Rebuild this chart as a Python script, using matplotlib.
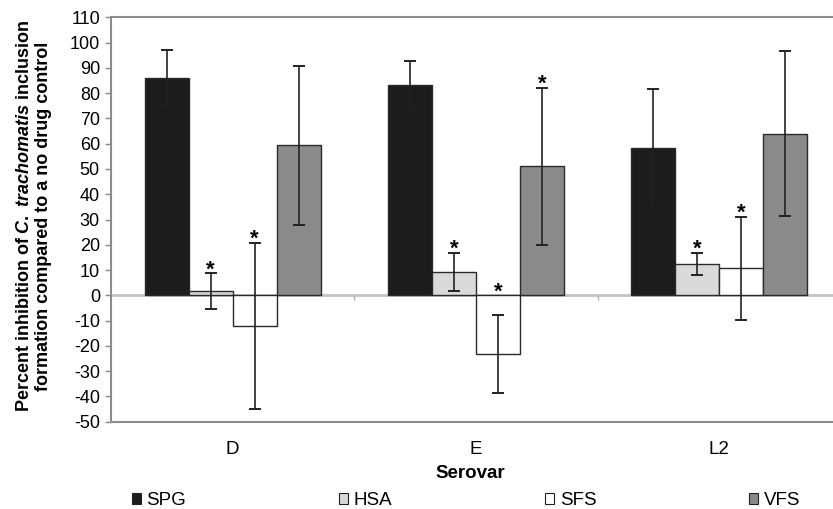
import matplotlib

matplotlib.use("Agg")

import matplotlib.pyplot as plt
import numpy as np
from matplotlib.patches import Patch

plt.rcParams["font.family"] = ["Liberation Sans", "DejaVu Sans"]
plt.rcParams["mathtext.fontset"] = "custom"
plt.rcParams["mathtext.rm"] = "Liberation Sans:bold"
plt.rcParams["mathtext.it"] = "Liberation Sans:bold:italic"

# values (percent inhibition, mean +/- error)
serovars = ["D", "E", "L2"]
series = ["SPG", "HSA", "SFS", "VFS"]
means = {
    "SPG": [86.0, 83.1, 58.1],
    "HSA": [1.6, 9.2, 12.4],
    "SFS": [-12.0, -23.2, 10.7],
    "VFS": [59.3, 51.1, 64.0],
}
errors = {
    "SPG": [11.0, 9.6, 23.5],
    "HSA": [7.1, 7.5, 4.4],
    "SFS": [32.9, 15.6, 20.3],
    "VFS": [31.3, 31.1, 32.8],
}
# significance markers (*) per series, per serovar
starred = {
    "SPG": [False, False, False],
    "HSA": [True, True, True],
    "SFS": [True, True, True],
    "VFS": [False, True, False],
}
colors = {"SPG": "#1c1c1c", "HSA": "#d9d9d9", "SFS": "#ffffff", "VFS": "#8a8a8a"}
yticks = list(range(-50, 111, 10))

W, H = 833, 509
fig = plt.figure(figsize=(W / 100, H / 100), dpi=100)
ax = fig.add_axes([111 / W, 1 - 421.7 / H, 730 / W, (421.7 - 17.3) / H])

x = np.arange(len(serovars))
width = 0.181
for k, name in enumerate(series):
    pos = x + (k - 1.5) * width
    ax.bar(pos, means[name], width, color=colors[name], edgecolor="#2a2a2a",
           linewidth=1.0, zorder=3)
    ax.errorbar(pos, means[name], yerr=errors[name], fmt="none", ecolor="#222222",
                elinewidth=1.2, capsize=4.5, capthick=1.4, zorder=4)
    for p, m, e, s in zip(pos, means[name], errors[name], starred[name]):
        if s:
            ax.annotate("*", (p, max(0, m + e)), xytext=(0, -1.5), textcoords="offset points",
                        ha="center", va="baseline", fontsize=16, fontweight="bold", zorder=5)

ax.axhline(0, color="#c4c4c4", linewidth=2.0, zorder=2)
# category boundary ticks sit on the zero line
ax.vlines(x[:-1] + 0.5, -2.0, 0, color="#b0b0b0", linewidth=1.0, zorder=2)

ax.set_xlim(-0.5, len(serovars) - 0.5)
ax.set_ylim(-50, 110)
ax.set_yticks(yticks)
ax.set_yticklabels([str(t) for t in yticks])
ax.set_xticks(x)
ax.set_xticklabels(serovars)
ax.tick_params(axis="x", length=0, pad=14, labelsize=13.5)
ax.tick_params(axis="y", length=4, width=1, color="#888888", pad=4, labelsize=13)

for side in ("left", "top", "bottom", "right"):
    ax.spines[side].set_color("#8c8c8c")
    ax.spines[side].set_linewidth(1.5)

ax.set_xlabel("Serovar", fontsize=13.5, fontweight="bold")
ax.xaxis.set_label_coords((470 - 111) / 730, -(465 - 421.7) / 404.4)

fig.text(34 / W, 1 - 216 / H,
         "Percent inhibition of $\\mathit{C.\\ trachomatis}$ inclusion\n"
         "formation compared to a no drug control",
         rotation=90, ha="center", va="center", fontsize=13, fontweight="bold",
         linespacing=1.2, multialignment="center")

handles = [Patch(facecolor=colors[n], edgecolor="#222222", linewidth=0.8) for n in series]
fig.legend(handles, series, loc="center", ncol=4, mode="expand", frameon=False,
           bbox_to_anchor=(124 / W, 1 - 512 / H, (808 - 124) / W, 22 / H),
           fontsize=13.5, handlelength=0.5, handleheight=0.5, handletextpad=0.3,
           borderaxespad=0)

fig.savefig("out.png", dpi=100)
